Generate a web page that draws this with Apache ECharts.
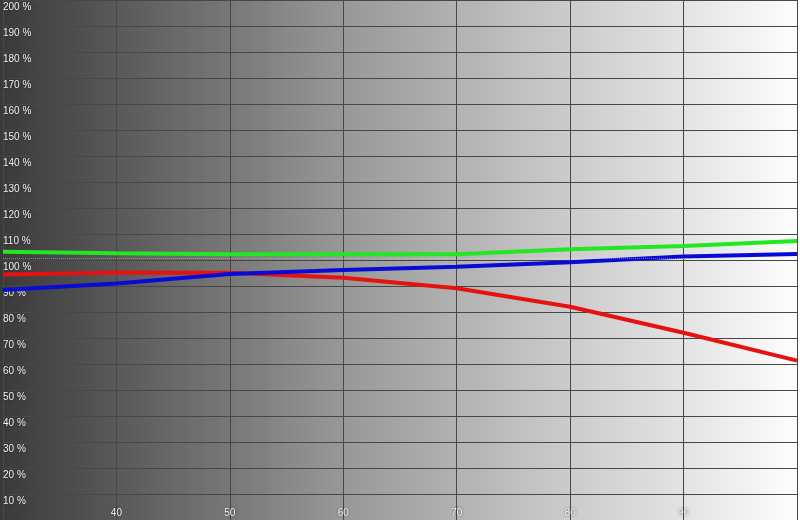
<!DOCTYPE html>
<html>
<head>
<meta charset="UTF-8">
<title>RGB balance</title>
<script src="https://cdn.jsdelivr.net/npm/echarts@6/dist/echarts.min.js"></script>
<style>
  html, body { margin: 0; padding: 0; }
  #chart { width: 800px; height: 520px; }
</style>
</head>
<body>
<div id="chart"></div>
<script>
// grey levels (%) on the x axis
var levels = [30, 40, 50, 60, 70, 80, 90, 100];
// channel balance, % of target
var greenVals = [103.2, 102.6, 102.2, 102.2, 102.2, 104.1, 105.4, 107.3];
var redVals   = [94.4, 95.2, 95.1, 93.2, 89.1, 82.0, 72.0, 61.3];
var blueVals  = [88.5, 91.0, 94.6, 96.2, 97.4, 99.1, 101.3, 102.3];
var xTickLabels = [40, 50, 60, 70, 80, 90];

function pairs(vals) {
  return levels.map(function (x, i) { return [x, vals[i]]; });
}

var chart = echarts.init(document.getElementById('chart'));

var labelStyle = {
  color: '#f2f2f2',
  fontFamily: 'Liberation Sans',
  fontSize: 10,
  textShadowColor: 'rgba(0,0,0,0.6)',
  textShadowBlur: 2
};

function line(name, color, vals) {
  return {
    name: name,
    type: 'line',
    data: pairs(vals),
    symbol: 'none',
    smooth: false,
    clip: false,
    lineStyle: { color: color, width: 4 },
    animation: false
  };
}

var option = {
  backgroundColor: new echarts.graphic.LinearGradient(0, 0, 1, 0, [
    { offset: 0, color: '#3a3a3a' },
    { offset: 0.14, color: '#575757' },
    { offset: 0.43, color: '#989898' },
    { offset: 0.71, color: '#cbcbcb' },
    { offset: 0.86, color: '#e4e4e4' },
    { offset: 1, color: '#fefefe' }
  ]),
  animation: false,
  grid: { left: -1, right: -1, top: 0, bottom: 0 },
  xAxis: {
    type: 'value',
    min: 30,
    max: 100,
    interval: 10,
    axisLine: { show: false },
    axisTick: { show: false },
    splitLine: { lineStyle: { color: '#474747', width: 1 } },
    axisLabel: Object.assign({
      inside: true,
      margin: 2,
      formatter: function (v) {
        return xTickLabels.indexOf(v) >= 0 ? String(v) : '';
      }
    }, labelStyle)
  },
  yAxis: {
    type: 'value',
    min: 0,
    max: 200,
    interval: 10,
    axisLine: { show: false },
    axisTick: { show: false },
    splitLine: { lineStyle: { color: '#474747', width: 1 } },
    axisLabel: Object.assign({
      inside: true,
      margin: 0,
      align: 'left',
      verticalAlign: 'top',
      padding: [2, 0, 0, 0],
      formatter: function (v) { return v === 0 ? '' : v + ' %'; }
    }, labelStyle)
  },
  series: [
    Object.assign(line('Red', '#e61212', redVals), {
      markLine: {
        silent: true,
        symbol: 'none',
        label: { show: false },
        lineStyle: { color: 'rgba(255,255,255,0.35)', type: 'dotted', width: 1 },
        data: [{ yAxis: 100.5 }]
      }
    }),
    line('Green', '#22e822', greenVals),
    line('Blue', '#0a0ad6', blueVals)
  ]
};

chart.setOption(option);
</script>
</body>
</html>
